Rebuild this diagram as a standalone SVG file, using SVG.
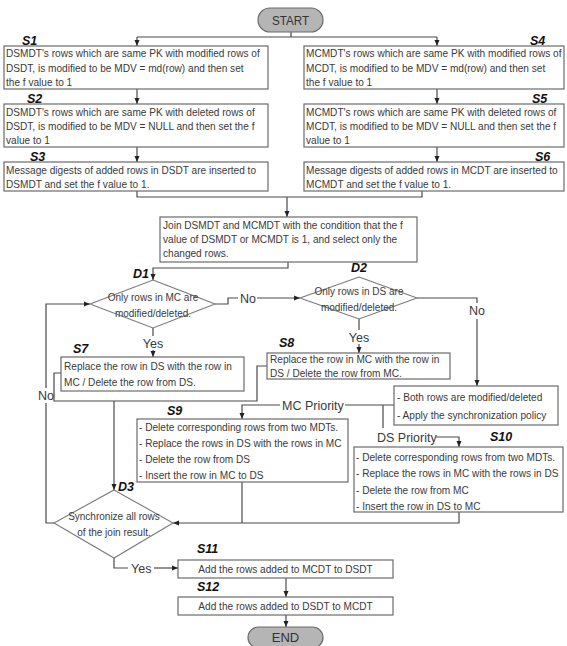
<svg xmlns="http://www.w3.org/2000/svg" width="567" height="646" viewBox="0 0 567 646">
<defs>
<marker id="ah" viewBox="0 0 6 6" refX="6" refY="3" markerWidth="6" markerHeight="6" markerUnits="userSpaceOnUse" orient="auto"><path d="M0,0.5 L6,3 L0,5.5 z" fill="#222"/></marker>
<style>
.box{fill:#fff;stroke:#6b6b6b;stroke-width:1.2}
.pill{fill:#b5b5b5;stroke:#6b6b6b;stroke-width:1.2}
.dia{fill:#fff;stroke:#7a7a7a;stroke-width:1.1}
.t{font-family:"Liberation Sans",Arial,sans-serif;font-size:10.1px;fill:#3a3a3a}
.d{font-family:"Liberation Sans",Arial,sans-serif;font-size:10px;fill:#3a3a3a;text-anchor:middle}
.lab{font-family:"Liberation Sans",Arial,sans-serif;font-size:12.5px;font-weight:bold;font-style:italic;fill:#111}
.e{font-family:"Liberation Sans",Arial,sans-serif;font-size:12.5px;fill:#3a3a3a}
.m{text-anchor:middle}
.p{font-family:"Liberation Sans",Arial,sans-serif;font-size:13px;fill:#333;text-anchor:middle}
.c{fill:none;stroke:#4a4a4a;stroke-width:1.2}
.ca{fill:none;stroke:#4a4a4a;stroke-width:1.2;marker-end:url(#ah)}
</style>
</defs>
<g id="connectors">
<path class="c" d="M291,32 V37 M137,37 H437"/>
<path class="ca" d="M137,37 V46"/>
<path class="ca" d="M437,37 V46"/>
<path class="ca" d="M137,89 V104"/>
<path class="ca" d="M137,147 V162"/>
<path class="ca" d="M437,89 V104"/>
<path class="ca" d="M437,147 V162"/>
<path class="c" d="M137,191 V197 H422 V191"/>
<path class="ca" d="M287,197 V217"/>
<path class="ca" d="M288,262 V268 H153 V280"/>
<path class="c" d="M215,304 H228 V298 H238"/>
<text class="e" x="240" y="302.5">No</text>
<path class="ca" d="M257,298 H300"/>
<path class="c" d="M417,298 H477 V303"/>
<text class="e m" x="477" y="314.5">No</text>
<path class="ca" d="M477,319 V386"/>
<path class="c" d="M359,319 V330"/>
<text class="e m" x="359" y="341.5">Yes</text>
<path class="ca" d="M359,344 V353"/>
<path class="c" d="M153,328 V336"/>
<text class="e m" x="153" y="348">Yes</text>
<path class="ca" d="M153,350 V357"/>
<path class="c" d="M61,373 H54 V401 H257 V366 H267"/>
<path class="ca" d="M114,401 V490"/>
<path class="c" d="M54,523 H46 V403"/>
<text class="e m" x="46" y="399.5">No</text>
<path class="ca" d="M46,388 V304 H90"/>
<path class="c" d="M242,482 V523"/>
<path class="ca" d="M459,512 V523 H173"/>
<path class="c" d="M394,405 H345"/>
<text class="e" x="282" y="409.5">MC Priority</text>
<path class="ca" d="M280,405 H242 V419"/>
<path class="c" d="M383,405 V428"/>
<text class="e" x="377" y="441.5">DS Priority</text>
<path class="ca" d="M436,437 H459 V447"/>
<path class="c" d="M114,558 V568 H128"/>
<text class="e" x="131" y="572.5">Yes</text>
<path class="ca" d="M154,568 H178"/>
<path class="ca" d="M286,578 V597"/>
<path class="ca" d="M286,615 V627"/>
</g>
<g id="start">
<rect class="pill" x="258" y="8" width="65" height="24" rx="12"/>
<text class="p" x="290.5" y="24.5" textLength="37" lengthAdjust="spacingAndGlyphs">START</text>
</g>
<g id="S1">
<text class="lab" x="22" y="45">S1</text>
<rect class="box" x="4" y="46" width="264" height="43"/>
<text class="t" x="6" y="57">DSMDT's rows which are same PK with modified rows of</text>
<text class="t" x="6" y="72">DSDT, is modified to be  MDV = md(row) and then set</text>
<text class="t" x="6" y="86">the f value to 1</text>
</g>
<g id="S2">
<text class="lab" x="27" y="103">S2</text>
<rect class="box" x="4" y="104" width="264" height="43"/>
<text class="t" x="6" y="116">DSMDT's rows which are same PK with deleted rows of</text>
<text class="t" x="6" y="130">DSDT, is modified to be MDV = NULL and then set the f</text>
<text class="t" x="6" y="144">value to 1</text>
</g>
<g id="S3">
<text class="lab" x="30" y="161">S3</text>
<rect class="box" x="4" y="162" width="264" height="29"/>
<text class="t" x="6" y="174">Message digests of added rows in DSDT are inserted to</text>
<text class="t" x="6" y="188">DSMDT and set the f value to 1.</text>
</g>
<g id="S4">
<text class="lab" x="530" y="45">S4</text>
<rect class="box" x="304" y="46" width="260" height="43"/>
<text class="t" x="306" y="57">MCMDT's rows which are same PK with modified rows of</text>
<text class="t" x="306" y="72">MCDT, is modified to be  MDV = md(row) and then set</text>
<text class="t" x="306" y="86">the f value to 1</text>
</g>
<g id="S5">
<text class="lab" x="532" y="103">S5</text>
<rect class="box" x="304" y="104" width="260" height="43"/>
<text class="t" x="306" y="116">MCMDT's rows which are same PK with deleted rows of</text>
<text class="t" x="306" y="130">MCDT, is modified to be MDV = NULL and then set the f</text>
<text class="t" x="306" y="144">value to 1</text>
</g>
<g id="S6">
<text class="lab" x="535" y="161">S6</text>
<rect class="box" x="304" y="162" width="260" height="29"/>
<text class="t" x="306" y="174">Message digests of added rows in MCDT are inserted to</text>
<text class="t" x="306" y="188">MCMDT and set the f value to 1.</text>
</g>
<g id="join">
<rect class="box" x="160" y="217" width="257" height="45"/>
<text class="t" x="163" y="229">Join DSMDT and MCMDT with the condition that the f</text>
<text class="t" x="163" y="243">value of DSMDT or MCMDT is 1, and select only the</text>
<text class="t" x="163" y="257">changed rows.</text>
</g>
<g id="D1">
<text class="lab" x="133" y="278">D1</text>
<polygon class="dia" points="153,280 215,304 153,328 90,304"/>
<text class="d" x="153" y="300.5">Only rows in MC are</text>
<text class="d" x="153" y="316.5">modified/deleted.</text>
</g>
<g id="D2">
<text class="lab m" x="359" y="272">D2</text>
<polygon class="dia" points="359,277 417,298 359,319 300,298"/>
<text class="d" x="359" y="294.5">Only rows in DS are</text>
<text class="d" x="359" y="310.5">modified/deleted.</text>
</g>
<g id="S7">
<text class="lab" x="73" y="353">S7</text>
<rect class="box" x="61" y="357" width="183" height="34"/>
<text class="t" x="64" y="370">Replace the row in DS with the row in</text>
<text class="t" x="64" y="386">MC / Delete the row from DS.</text>
</g>
<g id="S8">
<text class="lab" x="279" y="347">S8</text>
<rect class="box" x="267" y="353" width="183" height="26"/>
<text class="t" x="270" y="363">Replace the row in MC with the row in</text>
<text class="t" x="270" y="377">DS / Delete the row from MC.</text>
</g>
<g id="both">
<rect class="box" x="394" y="386" width="164" height="39"/>
<text class="t" x="397" y="401">- Both rows are modified/deleted</text>
<text class="t" x="397" y="419">- Apply the synchronization policy</text>
</g>
<g id="S9">
<text class="lab" x="167" y="415">S9</text>
<rect class="box" x="137" y="419" width="211" height="63"/>
<text class="t" x="139" y="431">- Delete corresponding rows from two MDTs.</text>
<text class="t" x="139" y="447">- Replace the rows in DS with the rows in MC</text>
<text class="t" x="139" y="463">- Delete the row from DS</text>
<text class="t" x="139" y="479">- Insert the row in MC to DS</text>
</g>
<g id="S10">
<text class="lab" x="490" y="441">S10</text>
<rect class="box" x="354" y="447" width="209" height="65"/>
<text class="t" x="356" y="461">- Delete corresponding rows from two MDTs.</text>
<text class="t" x="356" y="477">- Replace the rows in MC with the rows in DS</text>
<text class="t" x="356" y="494">- Delete the row from MC</text>
<text class="t" x="356" y="510">- Insert the row in DS to MC</text>
</g>
<g id="D3">
<text class="lab" x="118" y="491">D3</text>
<polygon class="dia" points="114,490 173,523 114,558 54,523"/>
<text class="d" x="114" y="519.5">Synchronize all rows</text>
<text class="d" x="114" y="535.5">of the join result.</text>
</g>
<g id="S11">
<text class="lab" x="197" y="553">S11</text>
<rect class="box" x="178" y="560" width="215" height="18"/>
<text class="t m" x="285.5" y="573">Add the rows added to MCDT to DSDT</text>
</g>
<g id="S12">
<text class="lab" x="197" y="591">S12</text>
<rect class="box" x="178" y="597" width="215" height="18"/>
<text class="t m" x="285.5" y="610">Add the rows added to DSDT to MCDT</text>
</g>
<g id="end">
<rect class="pill" x="248" y="627" width="75" height="21" rx="10.5"/>
<text class="p" x="285.5" y="642">END</text>
</g>
</svg>
